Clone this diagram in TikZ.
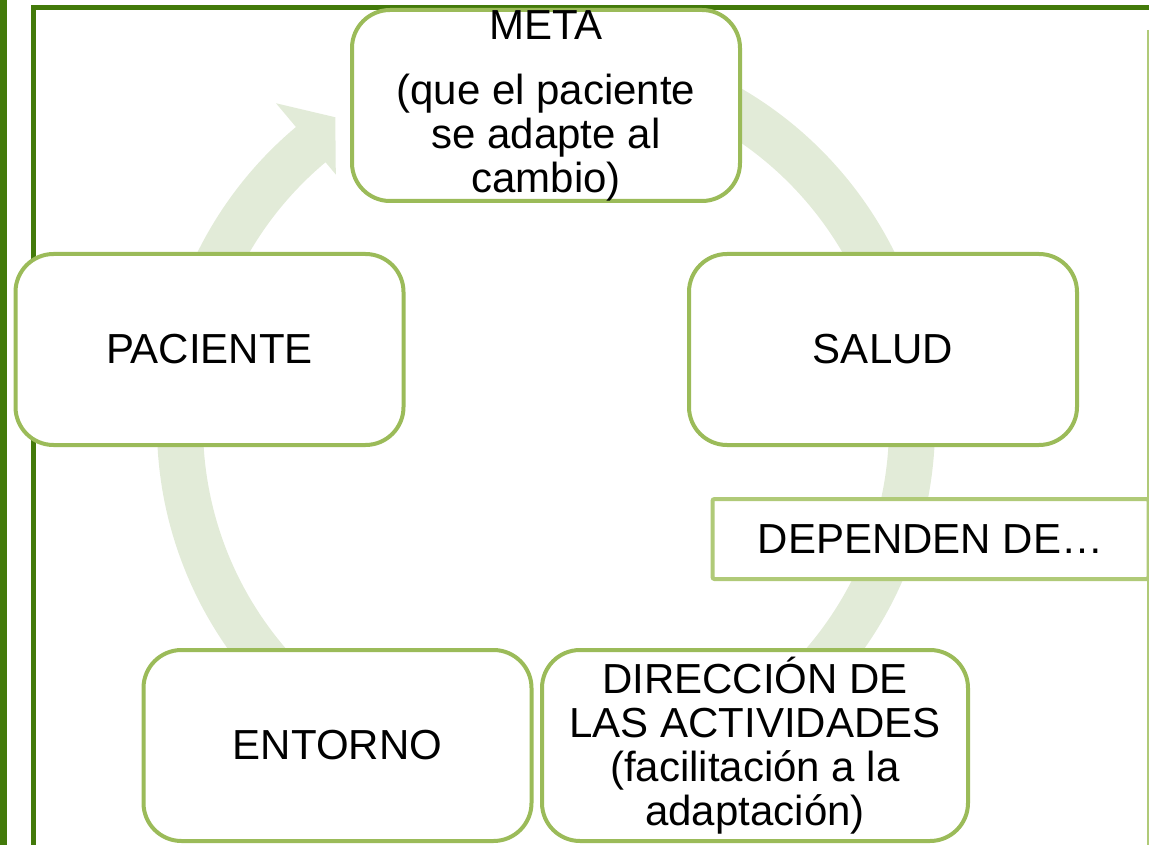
\documentclass[tikz,border=0pt]{standalone}
\usepackage{fontspec}
\setmainfont{Liberation Sans}
\definecolor{frameGreen}{HTML}{437A0A}
\definecolor{boxGreen}{HTML}{9BBB59}
\definecolor{tagGreen}{HTML}{B0CA78}
\definecolor{cycleGreen}{HTML}{E2EBD8}

\begin{document}
\begin{tikzpicture}[
    x=1pt, y=-1pt,
    every node/.style={align=center, inner sep=0pt, font=\fontsize{42}{44}\selectfont},
    stagebox/.style={draw=boxGreen, fill=white, line width=4pt, rounded corners=38pt, minimum width=388pt, minimum height=191pt},
    tagbox/.style={draw=tagGreen, fill=white, line width=4pt, rounded corners=2pt, minimum width=436pt, minimum height=80pt}
]
\useasboundingbox (0,0) rectangle (1149,845);
\clip (0,0) rectangle (1149,845);

% frame of the slide
\fill[frameGreen] (0,0) rectangle (7,845);
\fill[frameGreen] (31,5) rectangle (36,845);
\fill[frameGreen] (31,5) rectangle (1149,10);
\draw[tagGreen, line width=1.5pt] (1148,30) -- (1148,845);

% cycle arrow behind the boxes
\begin{scope}[shift={(546,425)}, y=1pt]
\fill[cycleGreen] (80:389pt) arc[start angle=80, end angle=-85, radius=389pt]
    -- (-85:343pt) arc[start angle=-85, end angle=80, radius=343pt] -- cycle;
\fill[cycleGreen] (-97:389pt) arc[start angle=-97, end angle=-230, radius=389pt]
    -- (130:420pt) -- (124.4:373pt) -- (130:327pt) -- (130:343pt)
    arc[start angle=-230, end angle=-97, radius=343pt] -- cycle;
\end{scope}

\node (meta) [stagebox] at (546,105.5) {META\\[21pt](que el paciente\\se adapte al\\cambio)};
\node (paciente) [stagebox] at (209.5,349.5) {PACIENTE};
\node (salud) [stagebox] at (883,349.5) {SALUD};
\node (dependen) [tagbox] at (930.5,539) {DEPENDEN DE…};
\node (entorno) [stagebox] at (337.5,745.5) {ENTORNO};
\node (direccion) [stagebox, minimum width=426pt] at (755,745.5) {DIRECCIÓN DE\\LAS ACTIVIDADES\\(facilitación a la\\adaptación)};
\end{tikzpicture}
\end{document}
